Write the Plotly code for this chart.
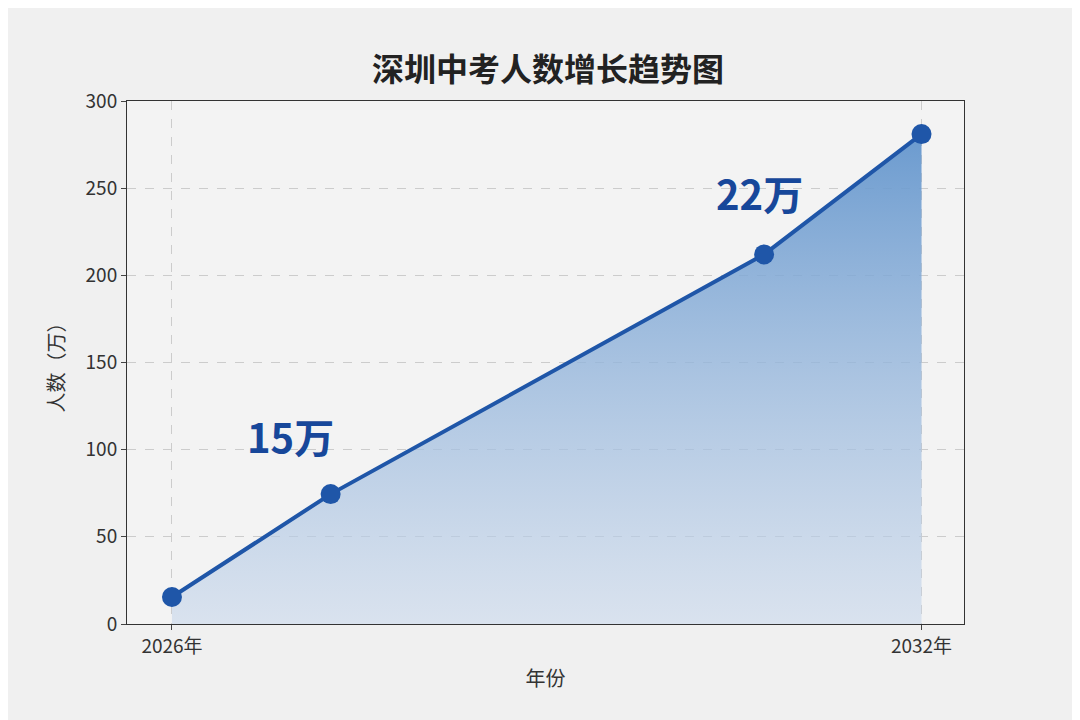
import plotly.graph_objects as go

years = [2026, 2027.27, 2030.74, 2032]
values = [15.5, 74.5, 212, 281]
labels = ["15万", "22万"]
label_x = [2026.95, 2030.7]
label_y = [108, 247]
tick_vals = [2026, 2032]
tick_text = ["2026年", "2032年"]

font = "Noto Sans CJK SC"
fig = go.Figure()
fig.add_trace(go.Scatter(
    x=years, y=values, mode="lines+markers",
    line=dict(color="#1f56a8", width=4),
    marker=dict(size=20, color="#1f56a8"),
    fill="tozeroy",
    fillgradient=dict(type="vertical",
                      colorscale=[[0, "rgba(200,215,235,0.6)"], [1, "rgba(100,150,205,0.95)"]]),
    hoverinfo="skip"))
for t, x, y in zip(labels, label_x, label_y):
    fig.add_annotation(x=x, y=y, text=t, showarrow=False,
                       font=dict(family=font, size=40, color="#17479a", weight="bold"))
fig.update_layout(
    width=1080, height=720,
    paper_bgcolor="#f0f0f0", plot_bgcolor="#f3f3f3",
    margin=dict(l=119, r=124, t=93, b=104),
    showlegend=False,
    title=dict(text="<b>深圳中考人数增长趋势图</b>", x=0.5, y=0.93, xanchor="center",
               font=dict(family=font, size=32, color="#222")),
    font=dict(family=font, size=19, color="#333"),
)
fig.update_xaxes(range=[2025.64, 2032.34], tickvals=tick_vals, ticktext=tick_text,
                 showgrid=True, gridcolor="#cccccc", griddash="dash",
                 showline=True, linecolor="#333", mirror=True, ticks="outside",
                 title=dict(text="年份", font=dict(size=20)), zeroline=False)
fig.update_yaxes(range=[0, 300], dtick=50,
                 showgrid=True, gridcolor="#cccccc", griddash="dash",
                 showline=True, linecolor="#333", mirror=True, ticks="outside",
                 title=dict(text="人数（万）", font=dict(size=20)), zeroline=False)
fig.write_html("out.html")
